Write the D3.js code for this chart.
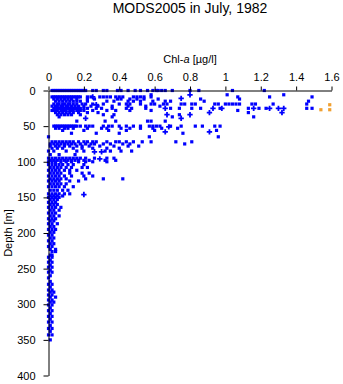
<!DOCTYPE html>
<html>
  <head>
    <meta charset="utf-8" />
    <title>MODS2005 chl-a profile</title>
    <script src="https://d3js.org/d3.v7.min.js"></script>
    <style>
      body {
        margin: 0;
        background: #fff;
      }
      text {
        font-family: "Liberation Sans", Arial, Helvetica, sans-serif;
      }
    </style>
  </head>
  <body>

    <svg id="chart"></svg>

    <script>

      // depth levels [m] and the chl-a values [ug/l] read at each of them
      var depthLevels = [0, 6, 9, 12, 15, 19, 22, 25, 28, 31, 34, 37, 43, 50, 53, 56, 60, 65,
        72, 75, 78, 81, 85, 90, 95, 98, 100, 104, 108, 112, 116, 120, 124, 127, 131, 135,
        140, 145, 148, 150, 153, 157, 160, 164, 168, 172, 176, 180, 183, 187, 191, 195,
        199, 203, 207, 211, 215, 219, 223, 226, 231, 234, 238, 241, 245, 248, 252, 255,
        260, 263, 268, 272, 276, 280, 283, 287, 290, 294, 297, 301, 305, 309, 313, 317,
        321, 325, 330, 334, 338, 343, 350];

      var chlLevels = [
        [0.02, 0.03, 0.04, 0.05, 0.06, 0.07, 0.08, 0.09, 0.10, 0.11, 0.12, 0.13, 0.14, 0.15, 0.16, 0.17, 0.18, 0.19, 0.20, 0.21, 0.25, 0.27, 0.31, 0.33, 0.39, 0.41, 0.45, 0.49, 0.52, 0.56, 0.59, 0.61, 0.62, 0.64, 0.66, 0.70, 0.80, 0.85, 1.04, 1.22],
        [0.58, 1.01, 1.33],
        [0.02, 0.03, 0.04, 0.05, 0.06, 0.07, 0.08, 0.09, 0.10, 0.11, 0.12, 0.13, 0.14, 0.15, 0.16, 0.17, 0.18, 0.22, 0.24, 0.29, 0.31, 0.33, 0.35, 0.38, 0.40, 0.42, 0.48, 0.50, 0.52, 0.54, 0.58, 1.07, 1.25, 1.49],
        [0.03, 0.05, 0.07, 0.09, 0.11, 0.13, 0.16, 0.22, 0.26, 0.39, 0.41, 0.46, 0.50, 0.54, 0.62, 0.86, 1.08],
        [0.04, 0.06, 0.08, 0.10, 0.12, 0.14, 0.16, 0.18, 0.22, 0.33, 0.37, 0.45, 0.48, 0.52, 0.59, 0.66, 0.69, 0.88, 1.47],
        [0.03, 0.05, 0.06, 0.08, 0.09, 0.11, 0.12, 0.14, 0.16, 0.19, 0.21, 0.25, 0.31, 0.40, 0.44, 0.46, 0.52, 0.58, 0.60, 0.65, 0.67, 0.75, 0.77, 0.81, 0.83, 0.94, 0.96, 1.00, 1.02, 1.04, 1.06, 1.08, 1.15, 1.17, 1.27, 1.46],
        [0.02, 0.04, 0.05, 0.07, 0.08, 0.10, 0.11, 0.13, 0.15, 0.17, 0.20, 0.24, 0.28, 0.36, 0.45, 0.55, 0.63],
        [0.03, 0.04, 0.05, 0.06, 0.07, 0.08, 0.09, 0.10, 0.11, 0.12, 0.13, 0.14, 0.15, 0.16, 0.17, 0.18, 0.20, 0.22, 0.27, 0.30, 0.36, 0.44, 0.47, 0.55, 0.69, 0.74, 0.81, 0.86, 0.97, 1.13, 1.19, 1.23, 1.46, 1.49],
        [0.02, 0.03, 0.04, 0.05, 0.07, 0.08, 0.09, 0.10, 0.12, 0.13, 0.14, 0.16, 0.17, 0.18, 0.20, 0.25, 0.33, 0.38, 0.46, 0.58, 1.07],
        [0.04, 0.06, 0.08, 0.10, 0.12, 0.14, 0.17, 0.22, 0.28, 1.13],
        [0.05, 0.07, 0.09, 0.11, 0.13, 0.18, 0.31, 0.37, 0.74],
        [0.06, 0.36, 0.70, 1.16],
        [0.16, 0.32, 0.38, 0.56, 0.58, 0.66],
        [0.03, 0.04, 0.05, 0.06, 0.07, 0.08, 0.09, 0.10, 0.11, 0.12, 0.13, 0.14, 0.15, 0.16, 0.18, 0.21, 0.23, 0.25, 0.31, 0.34, 0.36, 0.40, 0.44, 0.48, 0.52, 0.57, 0.59, 0.61, 0.63, 0.69, 0.75, 0.83, 0.87, 0.94, 0.97],
        [0.04, 0.06, 0.09, 0.11, 0.14, 0.22, 0.30, 0.33, 0.41, 0.46, 0.52, 0.59, 0.64, 0.73],
        [0.08, 0.20, 0.34, 0.44, 0.60, 0.95],
        [0.13, 0.27, 0.40, 0.76],
        [0.00, 0.57, 0.96],
        [0.02, 0.04, 0.06, 0.08, 0.10, 0.12, 0.14, 0.17, 0.20, 0.22, 0.25, 0.27, 0.33, 0.38, 0.40, 0.44, 0.48, 0.53, 0.58, 0.72, 0.81],
        [0.01, 0.03, 0.05, 0.07, 0.09, 0.11, 0.13, 0.15, 0.18, 0.21, 0.24, 0.26, 0.31, 0.35, 0.42, 0.46, 0.77],
        [0.01, 0.04, 0.06, 0.09, 0.12, 0.16, 0.19, 0.23, 0.29, 0.37, 0.45, 0.51],
        [0.02, 0.05, 0.08, 0.14, 0.19, 0.25, 0.33, 0.40],
        [0.00, 0.03, 0.10, 0.16, 0.20, 0.32, 0.35, 0.41, 0.47],
        [0.01, 0.06, 0.15],
        [0.00, 0.02, 0.04, 0.06, 0.08, 0.10, 0.12, 0.14, 0.16, 0.18, 0.21, 0.26, 0.33, 0.37],
        [0.01, 0.03, 0.05, 0.07, 0.09, 0.11, 0.13, 0.15, 0.17, 0.20, 0.23, 0.32, 0.38],
        [0.00, 0.02, 0.04, 0.07, 0.10, 0.13, 0.17, 0.21, 0.25, 0.33],
        [0.00, 0.02, 0.04, 0.06, 0.08, 0.11, 0.14, 0.20],
        [0.01, 0.03, 0.05, 0.07, 0.10, 0.13, 0.19, 0.22],
        [0.00, 0.02, 0.04, 0.06, 0.09, 0.12, 0.16],
        [0.01, 0.03, 0.05, 0.07, 0.12, 0.19, 0.23],
        [0.00, 0.02, 0.04, 0.06, 0.09, 0.13, 0.20, 0.25],
        [0.01, 0.03, 0.05, 0.07, 0.10, 0.21, 0.31, 0.42],
        [0.00, 0.02, 0.04, 0.06, 0.12, 0.17],
        [0.01, 0.03, 0.05, 0.07, 0.10],
        [0.00, 0.02, 0.04, 0.06, 0.09, 0.14],
        [0.01, 0.03, 0.05, 0.08, 0.11],
        [0.00, 0.02, 0.04, 0.06, 0.09, 0.12],
        [0.01, 0.03, 0.05, 0.08],
        [0.00, 0.02, 0.04, 0.06],
        [0.01, 0.03, 0.05],
        [0.00, 0.02, 0.04],
        [0.01, 0.03, 0.05],
        [0.00, 0.02, 0.04, 0.07],
        [0.01, 0.03, 0.06],
        [0.00, 0.02, 0.04],
        [0.01, 0.03, 0.06],
        [0.00, 0.02, 0.04],
        [0.01, 0.03],
        [0.00, 0.02, 0.05],
        [0.01, 0.03],
        [0.00, 0.02, 0.04],
        [0.01, 0.03],
        [0.00, 0.02],
        [0.01, 0.03],
        [0.00, 0.02],
        [0.01, 0.03],
        [0.00, 0.02],
        [0.01, 0.04],
        [0.02, 0.04],
        [0.01, 0.02],
        [0.00, 0.02],
        [0.01],
        [0.00, 0.02],
        [0.01],
        [0.00, 0.02],
        [0.01],
        [0.00, 0.02],
        [0.01],
        [0.00],
        [0.01],
        [0.00, 0.02],
        [0.01],
        [0.00, 0.02],
        [0.01, 0.03],
        [0.00, 0.02],
        [0.01, 0.04],
        [0.00, 0.02],
        [0.01, 0.03],
        [0.00, 0.02],
        [0.01],
        [0.00, 0.02],
        [0.01],
        [0.00, 0.02],
        [0.01],
        [0.00, 0.02],
        [0.01],
        [0.00, 0.02],
        [0.01],
        [0.00, 0.02],
        [0.01]
      ];

      // samples drawn with a "+" marker
      var plusChl = [0.25, 0.80, 0.75, 0.27, 0.66, 0.93, 0.98, 1.16, 1.25, 1.30, 1.33, 0.91, 1.32, 0.67, 0.80, 0.75, 0.21, 0.68, 0.66, 0.91, 0.26, 0.30, 0.29, 0.20];
      var plusDepth = [9, 6, 11, 20, 25, 25, 25, 25, 25, 25, 25, 31, 31, 34, 34, 39, 39, 51, 58, 58, 86, 86, 96, 146];

      // the orange samples at the right edge
      var orangeChl = [1.59, 1.54, 1.59];
      var orangeDepth = [20, 27, 27];

      var xTicks = [0, 0.2, 0.4, 0.6, 0.8, 1, 1.2, 1.4, 1.6];
      var yTicks = [0, 50, 100, 150, 200, 250, 300, 350, 400];

      var width = 343;
      var height = 384;
      var margin = {
        top: 90.5,
        right: 11.5,
        bottom: 8.5,
        left: 48.5
      };

      var blue = "#0000ff";
      var orange = "#f0a030";

      var svg = d3.select("#chart")
        .attr("width", width)
        .attr("height", height);

      var x = d3.scaleLinear()
        .domain([0, 1.6])
        .range([margin.left, width - margin.right]);

      var y = d3.scaleLinear()
        .domain([0, 400])
        .range([margin.top, height - margin.bottom]);

      // flatten the level arrays into points
      var points = [];
      depthLevels.forEach(function(dep, i) {
        chlLevels[i].forEach(function(c) {
          points.push({ chl: c, depth: dep });
        });
      });

      var sq = 3.2;

      svg.append("g")
        .selectAll("rect")
        .data(points)
        .enter().append("rect")
          .attr("x", function(d) { return x(d.chl) - sq / 2; })
          .attr("y", function(d) { return y(d.depth) - sq / 2; })
          .attr("width", sq)
          .attr("height", sq)
          .attr("fill", blue);

      var cross = d3.symbol().type(d3.symbolCross).size(16);

      svg.append("g")
        .selectAll("path")
        .data(plusChl)
        .enter().append("path")
          .attr("d", cross)
          .attr("transform", function(d, i) {
            return "translate(" + x(d) + "," + y(plusDepth[i]) + ")";
          })
          .attr("fill", blue);

      svg.append("g")
        .selectAll("rect")
        .data(orangeChl)
        .enter().append("rect")
          .attr("x", function(d) { return x(d) - sq / 2; })
          .attr("y", function(d, i) { return y(orangeDepth[i]) - sq / 2; })
          .attr("width", sq)
          .attr("height", sq)
          .attr("fill", orange);

      // axes
      var xAxis = d3.axisTop(x)
        .tickValues(xTicks)
        .tickFormat(function(d) { return String(d); })
        .tickSize(4)
        .tickSizeOuter(0)
        .tickPadding(6);

      var yAxis = d3.axisLeft(y)
        .tickValues(yTicks)
        .tickSize(5)
        .tickSizeOuter(0)
        .tickPadding(8);

      var gx = svg.append("g")
        .attr("transform", "translate(0," + margin.top + ")")
        .call(xAxis);

      var gy = svg.append("g")
        .attr("transform", "translate(" + margin.left + ",0)")
        .call(yAxis);

      [gx, gy].forEach(function(g) {
        g.selectAll("text")
          .attr("font-family", "'Liberation Sans', Arial, sans-serif")
          .attr("font-size", 11)
          .attr("fill", "#000");
        g.selectAll("line, path").attr("stroke", "#000");
      });

      // title and axis labels
      var midX = (x.range()[0] + x.range()[1]) / 2;

      svg.append("text")
        .attr("x", midX)
        .attr("y", 13)
        .attr("text-anchor", "middle")
        .attr("font-size", 14)
        .text("MODS2005 in July, 1982");

      var xLabel = svg.append("text")
        .attr("x", midX)
        .attr("y", 63)
        .attr("text-anchor", "middle")
        .attr("font-size", 11);
      xLabel.append("tspan").text("Chl-");
      xLabel.append("tspan").attr("font-style", "italic").text("a");
      xLabel.append("tspan").text(" [µg/l]");

      svg.append("text")
        .attr("transform", "translate(12," + ((y.range()[0] + y.range()[1]) / 2) + ") rotate(-90)")
        .attr("text-anchor", "middle")
        .attr("font-size", 11)
        .text("Depth [m]");

    </script>

  </body>
</html>
